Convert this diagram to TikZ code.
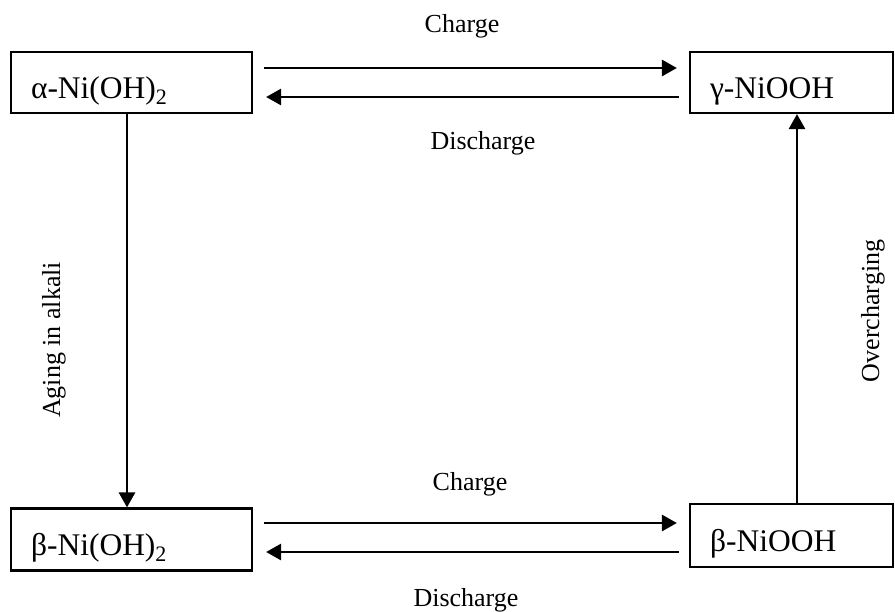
\documentclass[tikz,border=0pt]{standalone}
\usepackage{fontspec}
\setmainfont{Liberation Serif}
\usetikzlibrary{arrows.meta, positioning, calc}

\begin{document}
\begin{tikzpicture}[x=1pt, y=-1pt,
          phasebox/.style={rectangle, draw=black, line width=2.2pt, minimum height=61pt, inner xsep=20pt, align=left, text height=31pt, text depth=0pt, font=\fontsize{31.5}{37}\selectfont},
          steplabel/.style={font=\fontsize{26}{31}\selectfont, inner sep=0pt},
          arrow/.style={-{Triangle[length=15pt, width=16pt]}, line width=2.8pt, color=black}]

        \useasboundingbox (0,0) rectangle (895,611);

        \node [phasebox, text width=201pt] (alpha) at (131.5,82.5) {α-Ni(OH)\textsubscript{2}};
        \node [phasebox, text width=163pt] (gamma) at (791.5,82.5) {γ-NiOOH};
        \node [phasebox, text width=201pt, minimum height=62pt] (betaoh) at (131.5,539.5) {β-Ni(OH)\textsubscript{2}};
        \node [phasebox, text width=163pt, minimum height=63pt] (betaooh) at (791.5,535.5) {β-NiOOH};

        \node [steplabel, anchor=base] (chargetop) at (462,32) {Charge};
        \node [steplabel, anchor=base] (dischargetop) at (483,149) {Discharge};
        \node [steplabel, anchor=base] (chargebot) at (470,490) {Charge};
        \node [steplabel, anchor=base] (dischargebot) at (466,606) {Discharge};
        \node [steplabel, anchor=base, rotate=90] (aging) at (60,340) {Aging in alkali};
        \node [steplabel, anchor=base, rotate=90] (overcharge) at (879,311) {Overcharging};

        \draw [arrow] ($(alpha.east)+(11,-14.5)$) -- ($(gamma.west)+(-12,-14.5)$);
        \draw [arrow] ($(gamma.west)+(-10,14.5)$) -- ($(alpha.east)+(13,14.5)$);
        \draw [arrow] ($(betaoh.east)+(11,-16.5)$) -- ($(betaooh.west)+(-12,-12.5)$);
        \draw [arrow] ($(betaooh.west)+(-10,16.5)$) -- ($(betaoh.east)+(13,12.5)$);
        \draw [arrow] ($(alpha.south)+(-4.5,0)$) -- ($(betaoh.north)+(-4.5,0)$);
        \draw [arrow] ($(betaooh.north)+(5.5,0)$) -- ($(gamma.south)+(5.5,0)$);
      \end{tikzpicture}
\end{document}
